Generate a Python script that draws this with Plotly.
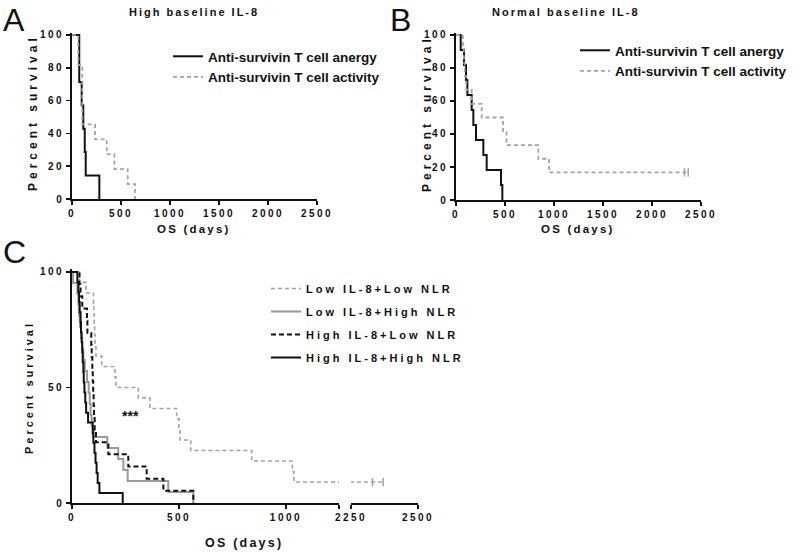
import plotly.graph_objects as go

# ---------------- data ----------------
# Panel A: High baseline IL-8
A_anergy_days = [0, 74, 99, 115, 130, 140, 279]
A_anergy_surv = [100, 71.4, 57.1, 42.9, 28.6, 14.3, 0]
A_activity_days = [0, 64, 105, 235, 354, 432, 568, 643]
A_activity_surv = [100, 81.8, 45.5, 36.4, 27.3, 18.2, 9.1, 0]

# Panel B: Normal baseline IL-8
B_anergy_days = [0, 48, 82, 102, 116, 160, 177, 204, 279, 313, 459, 473]
B_anergy_surv = [100, 90.9, 81.8, 72.7, 63.6, 54.5, 45.5, 36.4, 27.3, 18.2, 9.1, 0]
B_activity_days = [0, 70, 80, 90, 105, 160, 262, 480, 515, 840, 950, 2370]
B_activity_surv = [100, 91.7, 83.3, 75, 66.7, 58.3, 50, 41.7, 33.3, 25, 16.7, 16.7]
B_activity_cens_days = [2330, 2370]
B_activity_cens_surv = [16.7, 16.7]

# Panel C: IL-8 x NLR
C_LL_days = [0, 35, 65, 100, 102, 104, 106, 108, 112, 139, 201, 205, 310, 364,
             489, 500, 505, 555, 840, 1030, 1037, 2370]
C_LL_surv = [100, 95.5, 90.9, 86.4, 81.8, 77.3, 72.7, 68.2, 63.6, 59.1, 54.5, 50,
             45.5, 40.9, 36.4, 31.8, 27.3, 22.7, 18.2, 13.6, 9.1, 9.1]
C_LL_cens_days = [2330, 2370]
C_LL_cens_surv = [9.1, 9.1]

C_LH_days = [0, 5, 25, 30, 33, 37, 42, 47, 53, 60, 70, 78, 83, 87, 92, 97,
             165, 216, 240, 260, 450, 567]
C_LH_surv = [100, 95.2, 90.5, 85.7, 81, 76.2, 71.4, 66.7, 61.9, 57.1, 52.4, 47.6,
             42.9, 38.1, 33.3, 28.6, 23.8, 19, 14.3, 9.5, 4.8, 0]

C_HL_days = [0, 35, 40, 48, 70, 72, 90, 92, 95, 97, 99, 101, 103, 106, 112, 170,
             263, 349, 427, 567]
C_HL_surv = [100, 94.7, 89.5, 84.2, 78.9, 73.7, 68.4, 63.2, 57.9, 52.6, 47.4, 42.1,
             36.8, 31.6, 26.3, 21.1, 15.8, 10.5, 5.3, 0]

C_HH_days = [0, 25, 30, 33, 36, 40, 42, 45, 48, 50, 53, 55, 58, 62, 66, 75, 97,
             100, 105, 110, 115, 120, 128, 237]
C_HH_surv = [100, 95.7, 91.3, 87, 82.6, 78.3, 73.9, 69.6, 65.2, 60.9, 56.5, 52.2,
             47.8, 43.5, 39.1, 34.8, 30.4, 26.1, 21.7, 17.4, 13, 8.7, 4.3, 0]

AB_legend = ["Anti-survivin T cell anergy", "Anti-survivin T cell activity"]
C_legend = ["Low IL-8+Low NLR", "Low IL-8+High NLR", "High IL-8+Low NLR", "High IL-8+High NLR"]

AB_xticks = [0, 500, 1000, 1500, 2000, 2500]
AB_yticks = [0, 20, 40, 60, 80, 100]
C_xticks1 = [0, 500, 1000]
C_xticks2 = [2250, 2500]
C_yticks = [0, 50, 100]

# ---------------- helpers ----------------
W, H = 800, 553
FONT = "Liberation Sans, Arial, sans-serif"
BLACK = "#111111"
GREY = "#a3a3a3"
GREY_SOLID = "#9a9a9a"


def xd(px):
    return px / W


def yd(px):
    return 1 - px / H


fig = go.Figure()


def km(x, y, xa, ya, color, dash, width, name=None, legend=None, show=False, group=None):
    fig.add_trace(go.Scatter(
        x=x, y=y, xaxis=xa, yaxis=ya, mode="lines", line_shape="hv",
        line=dict(color=color, width=width, dash=dash),
        name=name, legend=legend, showlegend=show, legendgroup=group,
        hoverinfo="skip"))


def cens(x, y, xa, ya, color):
    fig.add_trace(go.Scatter(
        x=x, y=y, xaxis=xa, yaxis=ya, mode="markers",
        marker=dict(symbol="line-ns", size=6, color=color, line=dict(color=color, width=1.5)),
        showlegend=False, hoverinfo="skip", cliponaxis=False))


# Panel A
km(A_anergy_days, A_anergy_surv, "x", "y", BLACK, "solid", 2, AB_legend[0], "legend", True)
km(A_activity_days, A_activity_surv, "x", "y", GREY, "4px,3px", 1.8, AB_legend[1], "legend", True)
# Panel B
km(B_anergy_days, B_anergy_surv, "x2", "y2", BLACK, "solid", 2, AB_legend[0], "legend2", True)
km(B_activity_days, B_activity_surv, "x2", "y2", GREY, "4px,3px", 1.8, AB_legend[1], "legend2", True)
cens(B_activity_cens_days, B_activity_cens_surv, "x2", "y2", GREY)
# Panel C (segment 1 and segment 2 share the same data)
C_series = [
    (C_LL_days, C_LL_surv, GREY, "4px,3px", 1.6),
    (C_LH_days, C_LH_surv, GREY_SOLID, "solid", 2),
    (C_HL_days, C_HL_surv, BLACK, "5px,3px", 2),
    (C_HH_days, C_HH_surv, BLACK, "solid", 2),
]
for i, (dx, sy, col, dsh, wd) in enumerate(C_series):
    km(dx, sy, "x3", "y3", col, dsh, wd, C_legend[i], "legend3", True, group="g%d" % i)
    km(dx, sy, "x4", "y3", col, dsh, wd)
cens(C_LL_cens_days, C_LL_cens_surv, "x4", "y3", GREY)

axis_common = dict(
    showline=True, linecolor=BLACK, linewidth=1.8, ticks="outside", ticklen=4,
    tickwidth=1.5, tickcolor=BLACK, showgrid=False, zeroline=False, automargin=False,
    tickfont=dict(family=FONT, size=10, color=BLACK, weight="bold"),
    fixedrange=True,
)

layout = dict(
    template="none",
    width=W, height=H, margin=dict(l=0, r=0, t=0, b=0, pad=0, autoexpand=False),
    paper_bgcolor="white", plot_bgcolor="white", font=dict(family=FONT, color=BLACK),
    xaxis=dict(domain=[xd(72), xd(317)], range=[0, 2500], tickvals=AB_xticks, anchor="y", **axis_common),
    yaxis=dict(domain=[yd(199), yd(32.5)], range=[0, 101.5], tickvals=AB_yticks, anchor="x", **axis_common),
    xaxis2=dict(domain=[xd(456), xd(701)], range=[0, 2500], tickvals=AB_xticks, anchor="y2", **axis_common),
    yaxis2=dict(domain=[yd(200), yd(32.5)], range=[0, 101.5], tickvals=AB_yticks, anchor="x2", **axis_common),
    xaxis3=dict(domain=[xd(72), xd(339)], range=[0, 1248], tickvals=C_xticks1 + [1248],
                ticktext=[str(v) for v in C_xticks1] + [""], anchor="y3", **axis_common),
    xaxis4=dict(domain=[xd(351), xd(418)], range=[2250, 2500], tickvals=C_xticks2, anchor="y3", **axis_common),
    yaxis3=dict(domain=[yd(503), yd(268.5)], range=[0, 101.5], tickvals=C_yticks, anchor="x3", **axis_common),
    legend=dict(x=xd(168), y=yd(41), xanchor="left", yanchor="top", bgcolor="rgba(0,0,0,0)",
                font=dict(family=FONT, size=13.5, color=BLACK, weight="bold"), itemwidth=30,
                tracegroupgap=0),
    legend2=dict(x=xd(575), y=yd(35), xanchor="left", yanchor="top", bgcolor="rgba(0,0,0,0)",
                 font=dict(family=FONT, size=13.5, color=BLACK, weight="bold"), itemwidth=30,
                 tracegroupgap=0),
    legend3=dict(x=xd(266), y=yd(274), xanchor="left", yanchor="top", bgcolor="rgba(0,0,0,0)",
                 font=dict(family=FONT, size=11, color=BLACK, weight="bold"), itemwidth=30,
                 tracegroupgap=4),
)
fig.update_layout(**layout)

ann = []


def text(x, y, s, size, bold=True, angle=0, xanchor="center"):
    ann.append(dict(x=xd(x), y=yd(y), xref="paper", yref="paper", text=s, showarrow=False,
                    textangle=angle, xanchor=xanchor, yanchor="middle",
                    font=dict(family=FONT, size=size, color=BLACK, weight="bold" if bold else "normal")))


text(14, 20, "A", 32, bold=False)
text(400, 20, "B", 32, bold=False)
text(14, 252, "C", 32, bold=False)
text(194, 12, "High baseline IL-8", 11)
text(566, 12, "Normal baseline IL-8", 11)
text(33, 113, "Percent survival", 12, angle=-90)
text(427, 113, "Percent survival", 12, angle=-90)
text(29, 387, "Percent survival", 11, angle=-90)
text(194, 229, "OS (days)", 11.5)
text(578, 229, "OS (days)", 11.5)
text(244, 543, "OS (days)", 12.5)
text(130, 416, "***", 14)
fig.update_layout(annotations=ann)

post = """
document.body.style.margin = '0';
document.body.style.overflow = 'hidden';
var gd = document.getElementById('{plot_id}');
function spacing(){
  var m = {'OS (days)':'2.2px','High baseline IL-8':'2px',
           'Normal baseline IL-8':'2px','Low IL-8+Low NLR':'3px','Low IL-8+High NLR':'3px',
           'High IL-8+Low NLR':'3px','High IL-8+High NLR':'3px'};
  gd.querySelectorAll('text').forEach(function(t){
    var c = t.textContent;
    if (c === 'Percent survival') {
      var fs = parseFloat(t.style.fontSize || '12');
      t.style.letterSpacing = (fs < 11.5) ? '3px' : '4px';
      return;
    }
    if (m[c]) { t.style.letterSpacing = m[c]; return; }
    var p = t.parentNode;
    if (p && p.getAttribute && /^[xy]\\d*tick$/.test(p.getAttribute('class') || '')) {
      t.style.letterSpacing = '2.5px';
    }
  });
  gd.querySelectorAll('g.legend, g.legend2, g.legend3').forEach(function(g){
    g.removeAttribute('clip-path');
    g.querySelectorAll('*').forEach(function(e){
      if (e.hasAttribute && e.hasAttribute('clip-path')) e.removeAttribute('clip-path');
    });
  });
  document.querySelectorAll('clipPath[id*="legend"] rect').forEach(function(r){
    r.setAttribute('width', '1000');
  });
}
spacing();
if (gd.on) gd.on('plotly_afterplot', spacing);
"""

fig.write_html("out.html", post_script=post, config={"staticPlot": True})
